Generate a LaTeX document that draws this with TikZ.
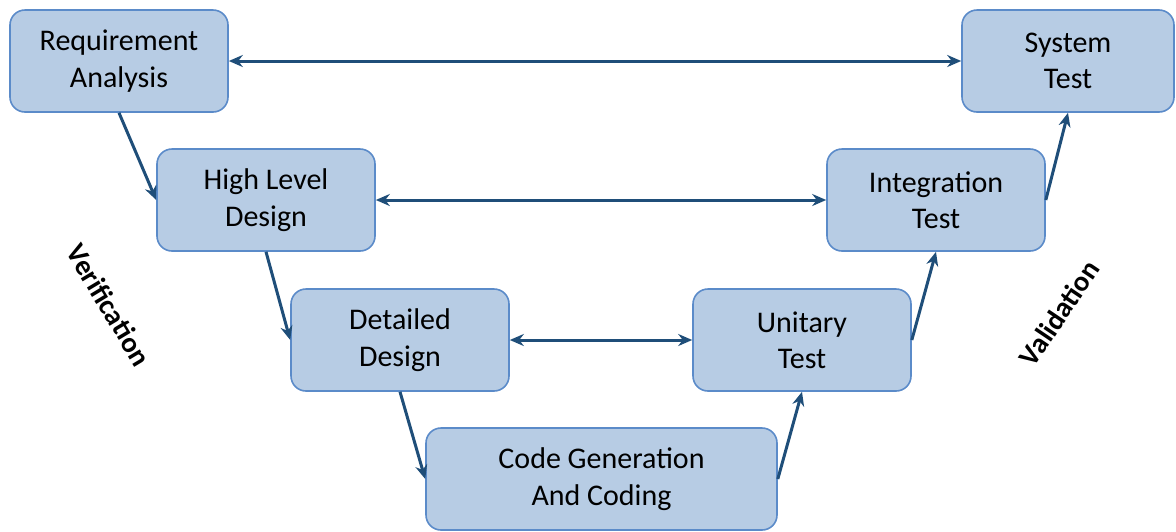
\documentclass[tikz,border=0pt]{standalone}
\usepackage{fontspec}
\setmainfont{Carlito}
\usetikzlibrary{arrows.meta}

\definecolor{boxfill}{HTML}{B7CCE4}
\definecolor{boxline}{HTML}{5B8BC9}
\definecolor{arrowblue}{HTML}{1F4E79}

\tikzset{
	phase/.style = {draw = boxline, line width = 0.8pt, fill = boxfill, rounded corners = 7.5pt,
		minimum width = 109pt, minimum height = 51pt, align = center, inner sep = 0pt,
		font = \fontsize{15}{18.2}\selectfont},
	flow/.style = {draw = arrowblue, line width = 1.5pt, -{Stealth[length = 7pt, width = 6pt]}},
	link/.style = {flow, {Stealth[length = 7pt, width = 6pt]}-{Stealth[length = 7pt, width = 6pt]}},
	side/.style = {font = \fontsize{14.3}{16}\selectfont\bfseries}
}

\begin{document}
\begin{tikzpicture}[x = 0.5pt, y = -0.5pt]

	\useasboundingbox (0, 0) rectangle (1176, 531);

	% Left branch
	
	\node [phase] (req) at (119, 61) {Requirement\\Analysis};
	\node [phase] (hld) at (266, 200) {High Level\\Design};
	\node [phase] (dd) at (400, 340) {Detailed\\Design};
	
	% Bottom
	
	\node [phase, minimum width = 175.5pt] (code) at (601.5, 479) {Code Generation\\And Coding};
	
	% Right branch
	
	\node [phase] (ut) at (802, 340) {Unitary\\Test};
	\node [phase] (it) at (936, 200) {Integration\\Test};
	\node [phase, minimum width = 106pt] (st) at (1068, 61) {System\\Test};
	
	% Arrows down and up
	
	\draw [flow] (req.south) -- (hld.west);
	\draw [flow] (hld.south) -- (dd.west);
	\draw [flow] (dd.south) -- (code.west);
	\draw [flow] (code.east) -- (ut.south);
	\draw [flow] (ut.east) -- (it.south);
	\draw [flow] (it.east) -- (st.south);
	
	% Links across
	
	\draw [link] (req.east) -- (st.west);
	\draw [link] (hld.east) -- (it.west);
	\draw [link] (dd.east) -- (ut.west);
	
	% Side labels
	
	\node [side, rotate = -59] (verif) at (109, 305) {Verification};
	\node [side, rotate = 56] (valid) at (1059, 313) {Validation};
	
\end{tikzpicture}
\end{document}
